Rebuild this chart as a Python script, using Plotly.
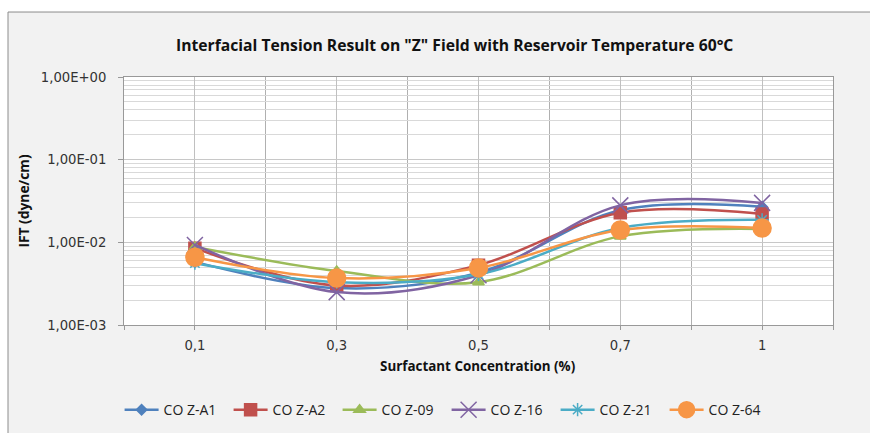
import plotly.graph_objects as go

categories = ["0,1", "0,3", "0,5", "0,7", "1"]
series_names = ["CO Z-A1", "CO Z-A2", "CO Z-09", "CO Z-16", "CO Z-21", "CO Z-64"]
co_z_a1 = [0.0058, 0.0028, 0.0043, 0.0245, 0.027]
co_z_a2 = [0.0085, 0.0030, 0.0053, 0.0228, 0.022]
co_z_09 = [0.0088, 0.0045, 0.0033, 0.0118, 0.0145]
co_z_16 = [0.0093, 0.0025, 0.0040, 0.028, 0.030]
co_z_21 = [0.0056, 0.0033, 0.0041, 0.0149, 0.0187]
co_z_64 = [0.0066, 0.0037, 0.0049, 0.0141, 0.0149]
y_ticks = [0.001, 0.01, 0.1, 1]
y_tick_labels = ["1,00E-03", "1,00E-02", "1,00E-01", "1,00E+00"]

values = [co_z_a1, co_z_a2, co_z_09, co_z_16, co_z_21, co_z_64]
colors = ["#4F81BD", "#C0504D", "#9BBB59", "#8064A2", "#4BACC6", "#F79646"]
symbols = ["diamond", "square", "triangle-up", "x-thin-open", "asterisk-open", "circle"]
sizes = [8, 12, 10, 16, 11, 18]

FONT = "Open Sans"
TICKFONT = "DejaVu Sans"
xpos = list(range(len(categories)))

fig = go.Figure()
for name, vals, c, s, sz in zip(series_names, values, colors, symbols, sizes):
    fig.add_trace(go.Scatter(
        x=xpos, y=vals, name=name, mode="lines+markers",
        line=dict(color=c, width=2.5, shape="spline", smoothing=1),
        marker=dict(symbol=s, size=sz, color=c, line=dict(color=c, width=1.5)),
    ))

minor_vals = [m * 10 ** e for e in (-3, -2, -1) for m in range(2, 10)]

fig.update_layout(
    width=870, height=433,
    paper_bgcolor="#f2f2f2", plot_bgcolor="white",
    margin=dict(l=124, r=37, t=77, b=108, autoexpand=False),
    font=dict(family=FONT, size=12, color="#222"),
    showlegend=True,
    legend=dict(orientation="h", x=0.455, xanchor="center", y=-0.343, yanchor="middle",
                bgcolor="rgba(0,0,0,0)", font=dict(size=14, family=FONT, color="#222"),
                entrywidth=60, itemwidth=34, tracegroupgap=0),
    xaxis=dict(
        range=[-0.5, 4.5], tickvals=xpos, ticktext=categories,
        showgrid=True, gridcolor="#c0c0c0", gridwidth=1,
        ticks="outside", ticklen=4, tickcolor="#999",
        showline=True, linecolor="#999", linewidth=1, mirror=True,
        zeroline=False, tickfont=dict(size=13.2, family=TICKFONT, color="#333"),
        ticklabelstandoff=4,
        minor=dict(tickvals=[-0.5, 0.5, 1.5, 2.5, 3.5, 4.5], showgrid=True,
                   gridcolor="#b0b0b0", gridwidth=1, ticks="outside", ticklen=4, tickcolor="#999"),
    ),
    yaxis=dict(
        type="log", range=[-3, 0], tickvals=y_ticks, ticktext=y_tick_labels,
        showgrid=True, gridcolor="#c8c8c8", gridwidth=1,
        ticks="outside", ticklen=5, tickcolor="#999",
        showline=True, linecolor="#999", linewidth=1, mirror=True,
        zeroline=False, tickfont=dict(size=13.2, family=TICKFONT, color="#333"),
        ticklabelstandoff=9,
        minor=dict(tickvals=minor_vals, showgrid=True, gridcolor="#d9d9d9", gridwidth=1),
    ),
    annotations=[
        dict(text="<b>Interfacial Tension Result on \"Z\" Field with Reservoir Temperature 60°C</b>",
             xref="paper", yref="paper", x=0.466, y=1.129, showarrow=False,
             xanchor="center", yanchor="middle", font=dict(size=15.7, family=FONT, color="#111")),
        dict(text="<b>IFT (dyne/cm)</b>", xref="paper", yref="paper", x=-0.143, y=0.5,
             textangle=-90, showarrow=False, xanchor="center", yanchor="middle",
             font=dict(size=13.8, family=FONT, color="#111")),
        dict(text="<b>Surfactant Concentration (%)</b>", xref="paper", yref="paper", x=0.498, y=-0.165,
             showarrow=False, xanchor="center", yanchor="middle",
             font=dict(size=13.4, family=FONT, color="#111")),
    ],
    shapes=[
        dict(type="rect", xref="paper", yref="paper", x0=-0.1749, x1=-0.1636, y0=-0.6, y1=1.5,
             line=dict(width=0), fillcolor="white", layer="below"),
        dict(type="rect", xref="paper", yref="paper", x0=-0.2, x1=1.2, y0=1.262, y1=1.5,
             line=dict(width=0), fillcolor="white", layer="below"),
        dict(type="rect", xref="paper", yref="paper", x0=1.02, x1=1.1, y0=-0.6, y1=1.258,
             line=dict(width=0), fillcolor="#f2f2f2", layer="above"),
        dict(type="line", xref="paper", yref="paper", x0=-0.1636, x1=1.2, y0=1.262, y1=1.262,
             line=dict(color="#8c8c8c", width=1), layer="above"),
        dict(type="line", xref="paper", yref="paper", x0=-0.1636, x1=-0.1636, y0=-0.6, y1=1.262,
             line=dict(color="#8c8c8c", width=1), layer="below"),
    ],
)

fig.write_html(
    "out.html",
    config={"displayModeBar": False},
    post_script="document.body.style.margin='0';document.body.style.overflow='hidden';",
)
